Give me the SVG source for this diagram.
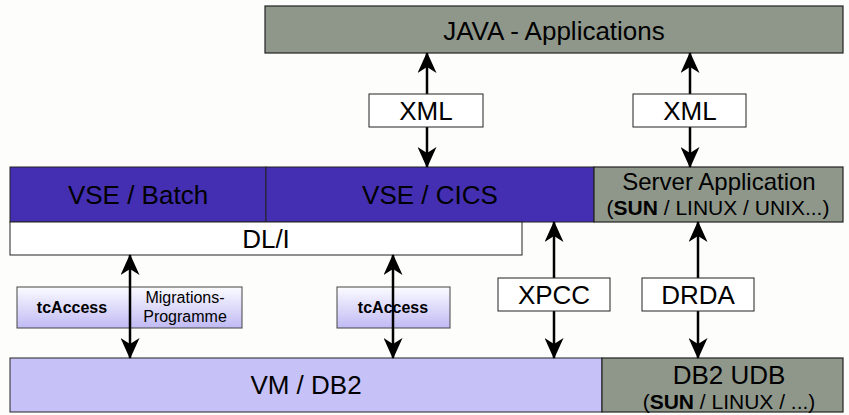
<svg xmlns="http://www.w3.org/2000/svg" width="849" height="415" viewBox="0 0 849 415">
<defs>
<linearGradient id="tcg" x1="0" y1="0" x2="0" y2="1">
<stop offset="0" stop-color="#fbfbff"/>
<stop offset="1" stop-color="#c0baf4"/>
</linearGradient>
<marker id="ah" markerUnits="userSpaceOnUse" viewBox="0 0 21 19" markerWidth="21" markerHeight="19" refX="20" refY="9.5" orient="auto-start-reverse">
<path d="M0,0 L21,9.5 L0,19 L6,9.5 Z" fill="#000"/>
</marker>
<style>
text{font-family:"Liberation Sans",Arial,sans-serif;fill:#000;text-anchor:middle}
.big{font-size:26px}
.med{font-size:24px}
.sm{font-size:21px}
.tc{font-size:16px;font-weight:bold}
.mig{font-size:16px}
.gray{fill:#8f978b;stroke:#222;stroke-width:1.2}
.vse{fill:#442fb3;stroke:#222;stroke-width:1}
.white{fill:#fff;stroke:#222;stroke-width:1}
.lav{fill:#c6c2f8;stroke:#222;stroke-width:1}
.tcb{fill:url(#tcg);stroke:#444;stroke-width:1}
.conn line{stroke:#000;stroke-width:2.5;marker-start:url(#ah);marker-end:url(#ah)}
</style>
</defs>
<rect width="849" height="415" fill="#fdfdfb"/>

<g id="java">
<rect class="gray" x="265" y="6" width="578" height="47"/>
<text class="big" x="554" y="40">JAVA - Applications</text>
</g>

<g id="vse-batch">
<rect class="vse" x="10" y="167" width="256" height="55"/>
<text class="big" x="138" y="204">VSE / Batch</text>
</g>
<g id="vse-cics">
<rect class="vse" x="266" y="167" width="328" height="55"/>
<text class="big" x="430" y="204">VSE / CICS</text>
</g>
<g id="server-app">
<rect class="gray" x="594" y="167" width="249" height="55"/>
<text class="med" x="719" y="190">Server Application</text>
<text class="sm" x="718" y="215">(<tspan font-weight="bold">SUN</tspan> / LINUX / UNIX...)</text>
</g>
<g id="dli">
<rect class="white" x="10" y="222" width="512" height="33"/>
<text class="big" x="266" y="248">DL/I</text>
</g>

<g id="tcaccess-1">
<rect class="tcb" x="17" y="287" width="225" height="41"/>
<text class="tc" x="72" y="313">tcAccess</text>
<text class="mig" x="185" y="303">Migrations-</text>
<text class="mig" x="185" y="322">Programme</text>
</g>
<g id="tcaccess-2">
<rect class="tcb" x="337" y="287" width="113" height="41"/>
<text class="tc" x="393" y="313">tcAccess</text>
</g>

<g id="vm-db2">
<rect class="lav" x="10" y="358" width="592" height="54"/>
<text class="big" x="306" y="394">VM / DB2</text>
</g>
<g id="db2-udb">
<rect class="gray" x="602" y="358" width="241" height="54"/>
<text class="big" x="729" y="384">DB2 UDB</text>
<text class="sm" x="729" y="409">(<tspan font-weight="bold">SUN</tspan> / LINUX / ...)</text>
</g>

<g id="connectors" class="conn">
<line x1="427" y1="53" x2="427" y2="167"/>
<line x1="690" y1="53" x2="690" y2="167"/>
<line x1="130" y1="255" x2="130" y2="358"/>
<line x1="393" y1="255" x2="393" y2="358"/>
<line x1="554" y1="222" x2="554" y2="358"/>
<line x1="698" y1="222" x2="698" y2="358"/>
</g>

<g id="xml-1">
<rect class="white" x="369" y="94" width="114" height="33"/>
<text class="big" x="426" y="120">XML</text>
</g>
<g id="xml-2">
<rect class="white" x="633" y="94" width="113" height="33"/>
<text class="big" x="690" y="120">XML</text>
</g>
<g id="xpcc">
<rect class="white" x="498" y="278" width="112" height="33"/>
<text class="big" x="554" y="304">XPCC</text>
</g>
<g id="drda">
<rect class="white" x="642" y="278" width="112" height="33"/>
<text class="big" x="698" y="304">DRDA</text>
</g>
</svg>
